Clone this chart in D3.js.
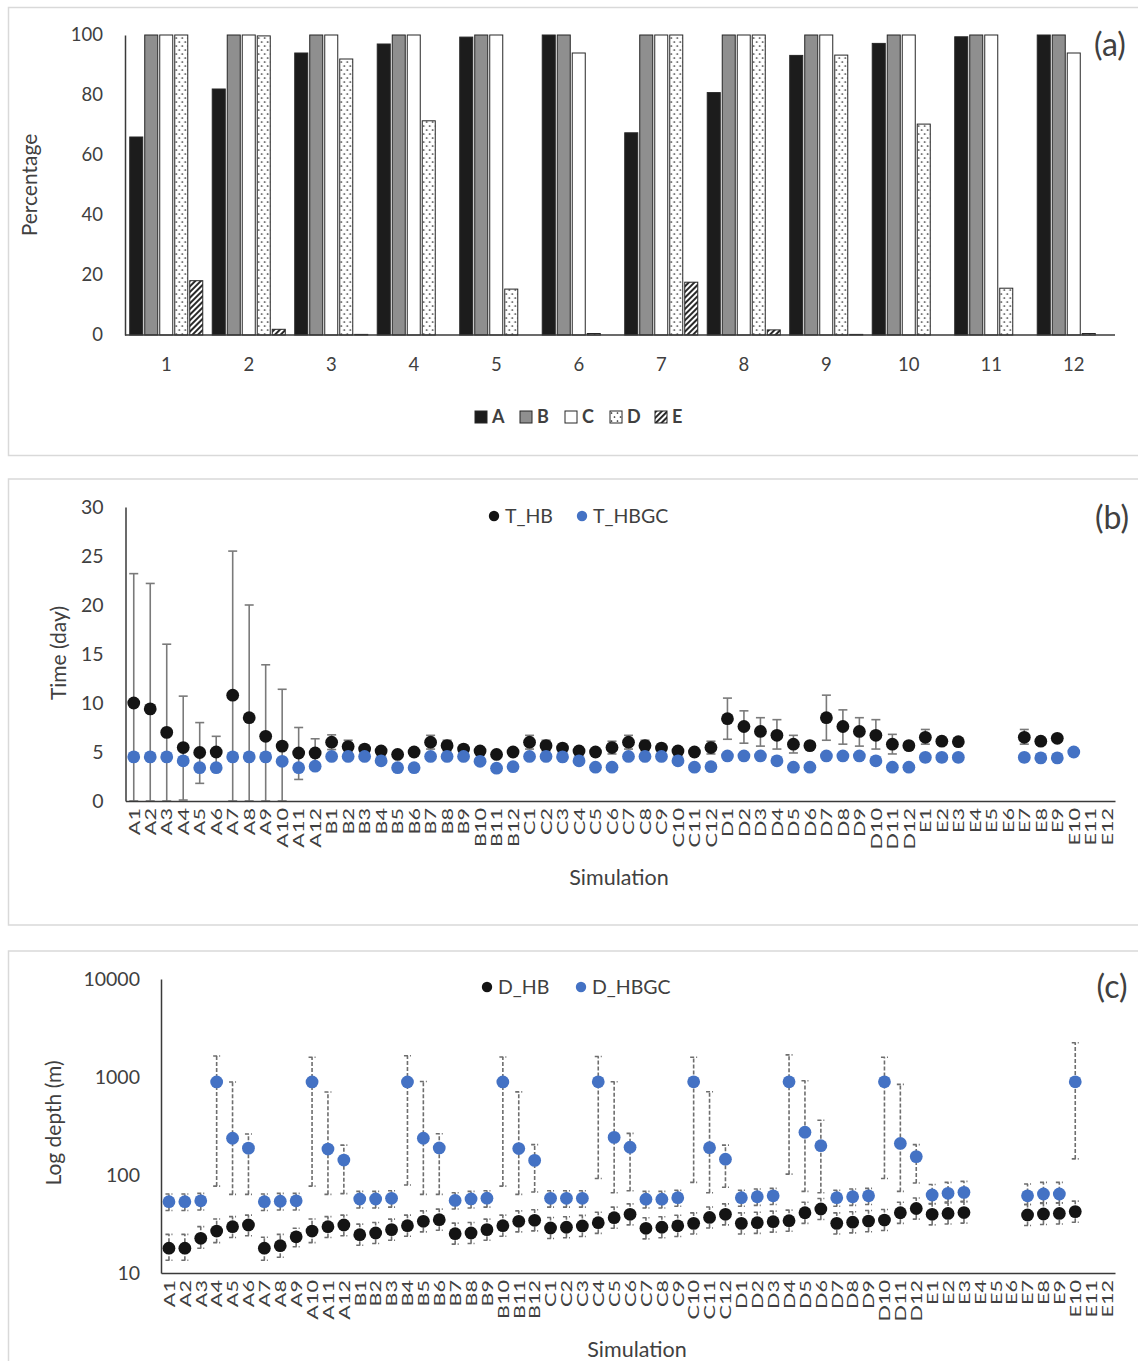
<!DOCTYPE html>
<html>
<head>
<meta charset="utf-8">
<script src="https://cdn.jsdelivr.net/npm/d3@7"></script>
<style>
  body { margin: 0; background: #fff; }
  svg text { font-family: Lato, "Open Sans", sans-serif; fill: #404040; }
</style>
</head>
<body>
<svg id="fig" width="1138" height="1361"></svg>
<script>
// ---------- data ----------
var runs = ["1", "2", "3", "4", "5", "6", "7", "8", "9", "10", "11", "12"];
var barKeys = ["A", "B", "C", "D", "E"];
var pctA = [66, 82, 94, 97, 99.3, 100, 67.4, 80.8, 93.2, 97.2, 99.4, 100];
var pctB = [100, 100, 100, 100, 100, 100, 100, 100, 100, 100, 100, 100];
var pctC = [100, 100, 100, 100, 100, 94, 100, 100, 100, 100, 100, 94];
var pctD = [100, 99.7, 92, 71.4, 15.3, 0.5, 100, 100, 93.3, 70.3, 15.6, 0.5];
var pctE = [18.1, 1.9, 0.2, 0, 0, 0, 17.6, 1.7, 0.2, 0, 0, 0];
var pctTicks = [0, 20, 40, 60, 80, 100];

var simLabels = [
  "A1", "A2", "A3", "A4", "A5", "A6", "A7", "A8", "A9", "A10", "A11", "A12",
  "B1", "B2", "B3", "B4", "B5", "B6", "B7", "B8", "B9", "B10", "B11", "B12",
  "C1", "C2", "C3", "C4", "C5", "C6", "C7", "C8", "C9", "C10", "C11", "C12",
  "D1", "D2", "D3", "D4", "D5", "D6", "D7", "D8", "D9", "D10", "D11", "D12",
  "E1", "E2", "E3", "E4", "E5", "E6", "E7", "E8", "E9", "E10", "E11", "E12"];

// (b) time (day)
var tHB = [
  10.0, 9.4, 7.0, 5.45, 4.95, 5.0, 10.8, 8.5, 6.6, 5.6, 4.9, 4.9,
  6.0, 5.55, 5.3, 5.1, 4.75, 5.0, 6.0, 5.65, 5.3, 5.1, 4.75, 5.0,
  6.0, 5.65, 5.4, 5.1, 5.0, 5.45, 6.0, 5.65, 5.4, 5.1, 5.0, 5.45,
  8.4, 7.6, 7.1, 6.7, 5.8, 5.65, 8.5, 7.6, 7.1, 6.7, 5.8, 5.65,
  6.5, 6.1, 6.05, null, null, null, 6.5, 6.1, 6.4, null, null, null];
var tHBhi = [
  23.2, 22.2, 16.0, 10.7, 8.0, 6.6, 25.5, 20.0, 13.9, 11.4, 7.5, 6.35,
  6.75, 6.2, 5.65, 5.4, 5.0, 5.3, 6.7, 6.2, 5.65, 5.4, 5.0, 5.3,
  6.7, 6.2, 5.75, 5.4, 5.3, 6.1, 6.7, 6.2, 5.75, 5.4, 5.3, 6.1,
  10.5, 9.2, 8.5, 8.3, 6.7, 6.0, 10.8, 9.3, 8.5, 8.3, 6.8, 6.0,
  7.3, 6.5, 6.4, null, null, null, 7.3, 6.5, 6.7, null, null, null];
var tHBlo = [
  0, 0, 0, 0.1, 1.8, 3.4, 0, 0, 0, 0, 2.2, 3.45,
  5.25, 4.9, 4.95, 4.8, 4.5, 4.7, 5.3, 5.1, 4.95, 4.8, 4.5, 4.7,
  5.3, 5.1, 5.05, 4.8, 4.7, 4.8, 5.3, 5.1, 5.05, 4.8, 4.7, 4.8,
  6.3, 5.9, 5.6, 5.3, 4.9, 5.3, 6.2, 5.8, 5.6, 5.3, 4.8, 5.3,
  5.8, 5.7, 5.7, null, null, null, 5.8, 5.7, 6.1, null, null, null];
var tHBGC = [
  4.5, 4.5, 4.5, 4.1, 3.4, 3.4, 4.5, 4.5, 4.5, 4.05, 3.4, 3.55,
  4.55, 4.55, 4.55, 4.1, 3.4, 3.4, 4.55, 4.55, 4.55, 4.05, 3.35, 3.5,
  4.55, 4.55, 4.5, 4.1, 3.45, 3.45, 4.55, 4.55, 4.55, 4.1, 3.45, 3.5,
  4.6, 4.6, 4.6, 4.1, 3.45, 3.45, 4.6, 4.6, 4.6, 4.1, 3.45, 3.45,
  4.45, 4.45, 4.45, null, null, null, 4.45, 4.4, 4.4, 5.0, null, null];
var timeTicks = [0, 5, 10, 15, 20, 25, 30];

// (c) depth (m)
var dHB = [
  17.9, 17.9, 22.6, 26.8, 29.7, 30.9, 17.9, 19.0, 23.4, 26.8, 29.7, 30.9,
  24.6, 25.6, 27.7, 30.4, 33.7, 35.0, 25.2, 25.6, 27.7, 30.4, 33.7, 34.5,
  28.8, 29.3, 30.2, 32.6, 36.7, 39.7, 28.6, 29.3, 30.3, 32.1, 36.9, 39.7,
  32.1, 32.6, 33.4, 34.2, 41.2, 45.0, 32.1, 33.0, 33.9, 34.7, 41.2, 45.5,
  39.7, 40.5, 41.4, null, null, null, 39.1, 40.0, 40.5, 42.3, null, null];
var dHBhi = [
  24.8, 24.8, 29.7, 35.6, 37.6, 39.0, 23.2, 24.8, 28.6, 35.6, 37.6, 39.0,
  31.5, 32.8, 35.5, 39.0, 43.0, 44.8, 32.3, 32.8, 35.5, 39.0, 43.0, 44.2,
  36.9, 37.5, 38.7, 41.7, 47.0, 50.8, 36.6, 37.5, 38.8, 41.1, 47.2, 50.8,
  41.1, 41.7, 42.8, 43.8, 52.7, 57.6, 41.1, 42.2, 43.4, 44.4, 52.7, 58.2,
  50.8, 51.8, 53.0, null, null, null, 50.0, 51.2, 51.8, 54.1, null, null];
var dHBlo = [
  13.5, 13.5, 17.9, 20.4, 23.0, 24.0, 13.5, 14.5, 18.5, 20.4, 23.0, 24.0,
  19.2, 20.0, 21.6, 23.7, 26.3, 27.3, 19.7, 20.0, 21.6, 23.7, 26.3, 26.9,
  22.5, 22.9, 23.6, 25.4, 28.6, 31.0, 22.3, 22.9, 23.6, 25.0, 28.8, 31.0,
  25.0, 25.4, 26.1, 26.7, 32.1, 35.1, 25.0, 25.7, 26.4, 27.1, 32.1, 35.5,
  31.0, 31.6, 32.3, null, null, null, 30.5, 31.2, 31.6, 33.0, null, null];
var dHBGC = [
  53.4, 53.4, 54.5, 890, 237, 188, 53.4, 54, 54.5, 890, 184, 142,
  56.9, 56.9, 57.8, 890, 237, 189, 55, 57, 58, 890, 186, 141,
  57.8, 57.8, 57.8, 893, 242, 192, 56.6, 56.6, 58.7, 893, 190, 145,
  58.7, 60, 61.3, 893, 273, 199, 58.7, 60, 61.3, 893, 210, 154,
  62.5, 65, 66.5, null, null, null, 61.3, 64, 64, 893, null, null];
var dHBGChi = [
  64, 64, 65, 1640, 890, 262, 64, 65, 65, 1590, 702, 202,
  68, 68, 69, 1650, 900, 264, 66, 68, 69, 1600, 705, 204,
  69, 69, 69, 1620, 895, 266, 68, 68, 70, 1590, 708, 202,
  70, 72, 73, 1680, 917, 362, 70, 72, 73, 1590, 840, 204,
  80, 84, 86, null, null, null, 81, 84, 84, 2240, null, null];
var dHBGClo = [
  43.5, 43.5, 44, 77, 63.5, 63.5, 43.5, 44, 44, 77, 63.5, 64.5,
  46, 46, 47, 79, 63.5, 63.5, 45, 46, 47, 77, 63.5, 67,
  47, 47, 47, 92, 66, 69, 46, 46, 48, 84, 66, 75,
  48, 49, 50, 102, 68, 66, 48, 49, 50, 92, 68, 83,
  51, 53, 54, null, null, null, 50, 52, 52, 146, null, null];
var depthTicks = [10, 100, 1000, 10000];

// ---------- drawing ----------
var BLUE = "#4472c4", BLACK = "#141414", AXIS = "#3a3a3a";
var svg = d3.select("#fig");

// panel frames
[[7.5, 448], [479, 446], [951, 420]].forEach(function (f) {
  svg.append("rect").attr("x", 8.5).attr("y", f[0]).attr("width", 1140).attr("height", f[1])
    .attr("fill", "none").attr("stroke", "#d9d9d9").attr("stroke-width", 1.5);
});

// patterns for D and E bars
var defs = svg.append("defs");
var dots = defs.append("pattern").attr("id", "dots").attr("patternUnits", "userSpaceOnUse")
  .attr("width", 6).attr("height", 8);
dots.append("rect").attr("width", 6).attr("height", 8).attr("fill", "#fff");
dots.append("circle").attr("cx", 1.5).attr("cy", 2).attr("r", 0.85).attr("fill", "#222");
dots.append("circle").attr("cx", 4.5).attr("cy", 6).attr("r", 0.85).attr("fill", "#222");
var hatch = defs.append("pattern").attr("id", "hatch").attr("patternUnits", "userSpaceOnUse")
  .attr("width", 4).attr("height", 4).attr("patternTransform", "rotate(45)");
hatch.append("rect").attr("width", 4).attr("height", 4).attr("fill", "#fff");
hatch.append("line").attr("x1", 1).attr("y1", 0).attr("x2", 1).attr("y2", 4)
  .attr("stroke", "#111").attr("stroke-width", 1.8);

var barFill = { A: "#1c1c1c", B: "#8f8f8f", C: "#ffffff", D: "url(#dots)", E: "url(#hatch)" };

function styleAxis(g, size) {
  g.select(".domain").attr("stroke", AXIS).attr("stroke-width", 1.5);
  g.selectAll("text").attr("font-size", size).attr("font-family", null).attr("fill", "#3c3c3c");
}

// ===== (a) =====
var xA = d3.scaleBand().domain(runs).range([125, 1115]).paddingInner(0.115).paddingOuter(0.0575);
var xSub = d3.scaleBand().domain(barKeys).range([0, xA.bandwidth()]).paddingInner(0.133);
var yA = d3.scaleLinear().domain([0, 100]).range([335, 35]);

var barRows = runs.map(function (r, i) {
  return { run: r, vals: [pctA[i], pctB[i], pctC[i], pctD[i], pctE[i]] };
});

var groups = svg.append("g").selectAll("g").data(barRows).enter().append("g")
  .attr("transform", function (d) { return "translate(" + xA(d.run) + ",0)"; });
groups.selectAll("rect")
  .data(function (d) {
    return d.vals.map(function (v, k) { return { key: barKeys[k], v: v }; })
      .filter(function (b) { return b.v > 0; });
  })
  .enter().append("rect")
  .attr("x", function (b) { return xSub(b.key); })
  .attr("y", function (b) { return yA(b.v); })
  .attr("width", xSub.bandwidth())
  .attr("height", function (b) { return yA(0) - yA(b.v); })
  .attr("fill", function (b) { return barFill[b.key]; })
  .attr("stroke", "#262626").attr("stroke-width", 1);

svg.append("g").attr("transform", "translate(125,0)")
  .call(d3.axisLeft(yA).tickValues(pctTicks).tickSize(0).tickPadding(22))
  .call(styleAxis, 18.5);
svg.append("g").attr("transform", "translate(0,335)")
  .call(d3.axisBottom(xA).tickSize(0).tickSizeOuter(0).tickPadding(23))
  .call(styleAxis, 18.5)
  .select(".domain").attr("d", "M125,0H1115");

svg.append("text").attr("transform", "translate(37,185) rotate(-90)")
  .attr("text-anchor", "middle").attr("font-size", 21).text("Percentage");
svg.append("text").attr("x", 1110).attr("y", 56).attr("text-anchor", "middle")
  .attr("font-size", 32).text("(a)");

// legend (a)
var legA = svg.append("g").selectAll("g").data(barKeys).enter().append("g")
  .attr("transform", function (d, i) { return "translate(" + (475 + i * 45) + ",411)"; });
legA.append("rect").attr("width", 12).attr("height", 12)
  .attr("fill", function (d) { return barFill[d]; })
  .attr("stroke", "#262626").attr("stroke-width", 1);
legA.append("text").attr("x", 17).attr("y", 6).attr("dy", "0.36em")
  .attr("font-size", 18).attr("font-weight", "bold").attr("fill", "#333").text(function (d) { return d; });

// ===== shared helpers for (b), (c) =====
function simAxis(x, y0) {
  var g = svg.append("g").attr("transform", "translate(0," + y0 + ")")
    .call(d3.axisBottom(x).tickSize(0).tickSizeOuter(0))
    .call(styleAxis, 16);
  g.selectAll(".tick text")
    .attr("x", -5.2).attr("y", 0).attr("dy", "0.36em")
    .attr("text-anchor", "end")
    .attr("transform", "rotate(-90) scale(1.35,1)");
  return g;
}

function errBars(layer, x, y, lo, hi, color, dash, cap) {
  var pts = simLabels.map(function (s, i) { return { s: s, lo: lo[i], hi: hi[i] }; })
    .filter(function (p) { return p.lo !== null && p.hi !== null; });
  var g = layer.append("g").attr("stroke", color).attr("stroke-width", 1.6)
    .attr("stroke-dasharray", dash);
  var cx = function (p) { return x(p.s) + x.bandwidth() / 2; };
  g.selectAll("line.v").data(pts).enter().append("line").attr("class", "v")
    .attr("x1", cx).attr("x2", cx)
    .attr("y1", function (p) { return y(p.lo); }).attr("y2", function (p) { return y(p.hi); });
  ["lo", "hi"].forEach(function (k) {
    g.selectAll("line." + k).data(pts).enter().append("line").attr("class", k)
      .attr("x1", function (p) { return cx(p) - cap; }).attr("x2", function (p) { return cx(p) + cap; })
      .attr("y1", function (p) { return y(p[k]); }).attr("y2", function (p) { return y(p[k]); });
  });
}

function dotsFor(layer, x, y, vals, color) {
  var pts = simLabels.map(function (s, i) { return { s: s, v: vals[i] }; })
    .filter(function (p) { return p.v !== null; });
  layer.append("g").selectAll("circle").data(pts).enter().append("circle")
    .attr("cx", function (p) { return x(p.s) + x.bandwidth() / 2; })
    .attr("cy", function (p) { return y(p.v); })
    .attr("r", 6.4).attr("fill", color);
}

function legend(y0, items) {
  items.forEach(function (it) {
    svg.append("circle").attr("cx", it[0]).attr("cy", y0).attr("r", 5.2).attr("fill", it[2]);
    svg.append("text").attr("x", it[0] + 11).attr("y", y0).attr("dy", "0.35em")
      .attr("font-size", 19.5).text(it[1]);
  });
}

// ===== (b) =====
var xT = d3.scaleBand().domain(simLabels).range([125.5, 1115]);
var yT = d3.scaleLinear().domain([0, 30]).range([801, 507]);
var layerB = svg.append("g");
errBars(layerB, xT, yT, tHBlo, tHBhi, "#7a7a7a", null, 4.5);
dotsFor(layerB, xT, yT, tHB, BLACK);
dotsFor(layerB, xT, yT, tHBGC, BLUE);

svg.append("g").attr("transform", "translate(125.5,0)")
  .call(d3.axisLeft(yT).tickValues(timeTicks).tickSize(0).tickPadding(22))
  .call(styleAxis, 19.5);
simAxis(xT, 801);
svg.append("text").attr("transform", "translate(66,653) rotate(-90)")
  .attr("text-anchor", "middle").attr("font-size", 21).text("Time (day)");
svg.append("text").attr("x", 619).attr("y", 885).attr("text-anchor", "middle")
  .attr("font-size", 21.5).text("Simulation");
svg.append("text").attr("x", 1112).attr("y", 529).attr("text-anchor", "middle")
  .attr("font-size", 32).text("(b)");
legend(516, [[494, "T_HB", BLACK], [582, "T_HBGC", BLUE]]);

// ===== (c) =====
var xD = d3.scaleBand().domain(simLabels).range([161, 1115]);
var yD = d3.scaleLog().domain([10, 10000]).range([1273, 979]);
var layerC = svg.append("g");
errBars(layerC, xD, yD, dHBlo, dHBhi, "#6e6e6e", "4,2", 3.5);
errBars(layerC, xD, yD, dHBGClo, dHBGChi, "#6e6e6e", "4,2", 3.5);
dotsFor(layerC, xD, yD, dHB, BLACK);
dotsFor(layerC, xD, yD, dHBGC, BLUE);

svg.append("g").attr("transform", "translate(161,0)")
  .call(d3.axisLeft(yD).tickValues(depthTicks).tickFormat(d3.format("d")).tickSize(0).tickPadding(21))
  .call(styleAxis, 19.5);
simAxis(xD, 1273);
svg.append("text").attr("transform", "translate(61,1123) rotate(-90)")
  .attr("text-anchor", "middle").attr("font-size", 21).text("Log depth (m)");
svg.append("text").attr("x", 637).attr("y", 1357).attr("text-anchor", "middle")
  .attr("font-size", 21.5).text("Simulation");
svg.append("text").attr("x", 1112).attr("y", 998).attr("text-anchor", "middle")
  .attr("font-size", 32).text("(c)");
legend(987, [[487, "D_HB", BLACK], [581, "D_HBGC", BLUE]]);
</script>
</body>
</html>
